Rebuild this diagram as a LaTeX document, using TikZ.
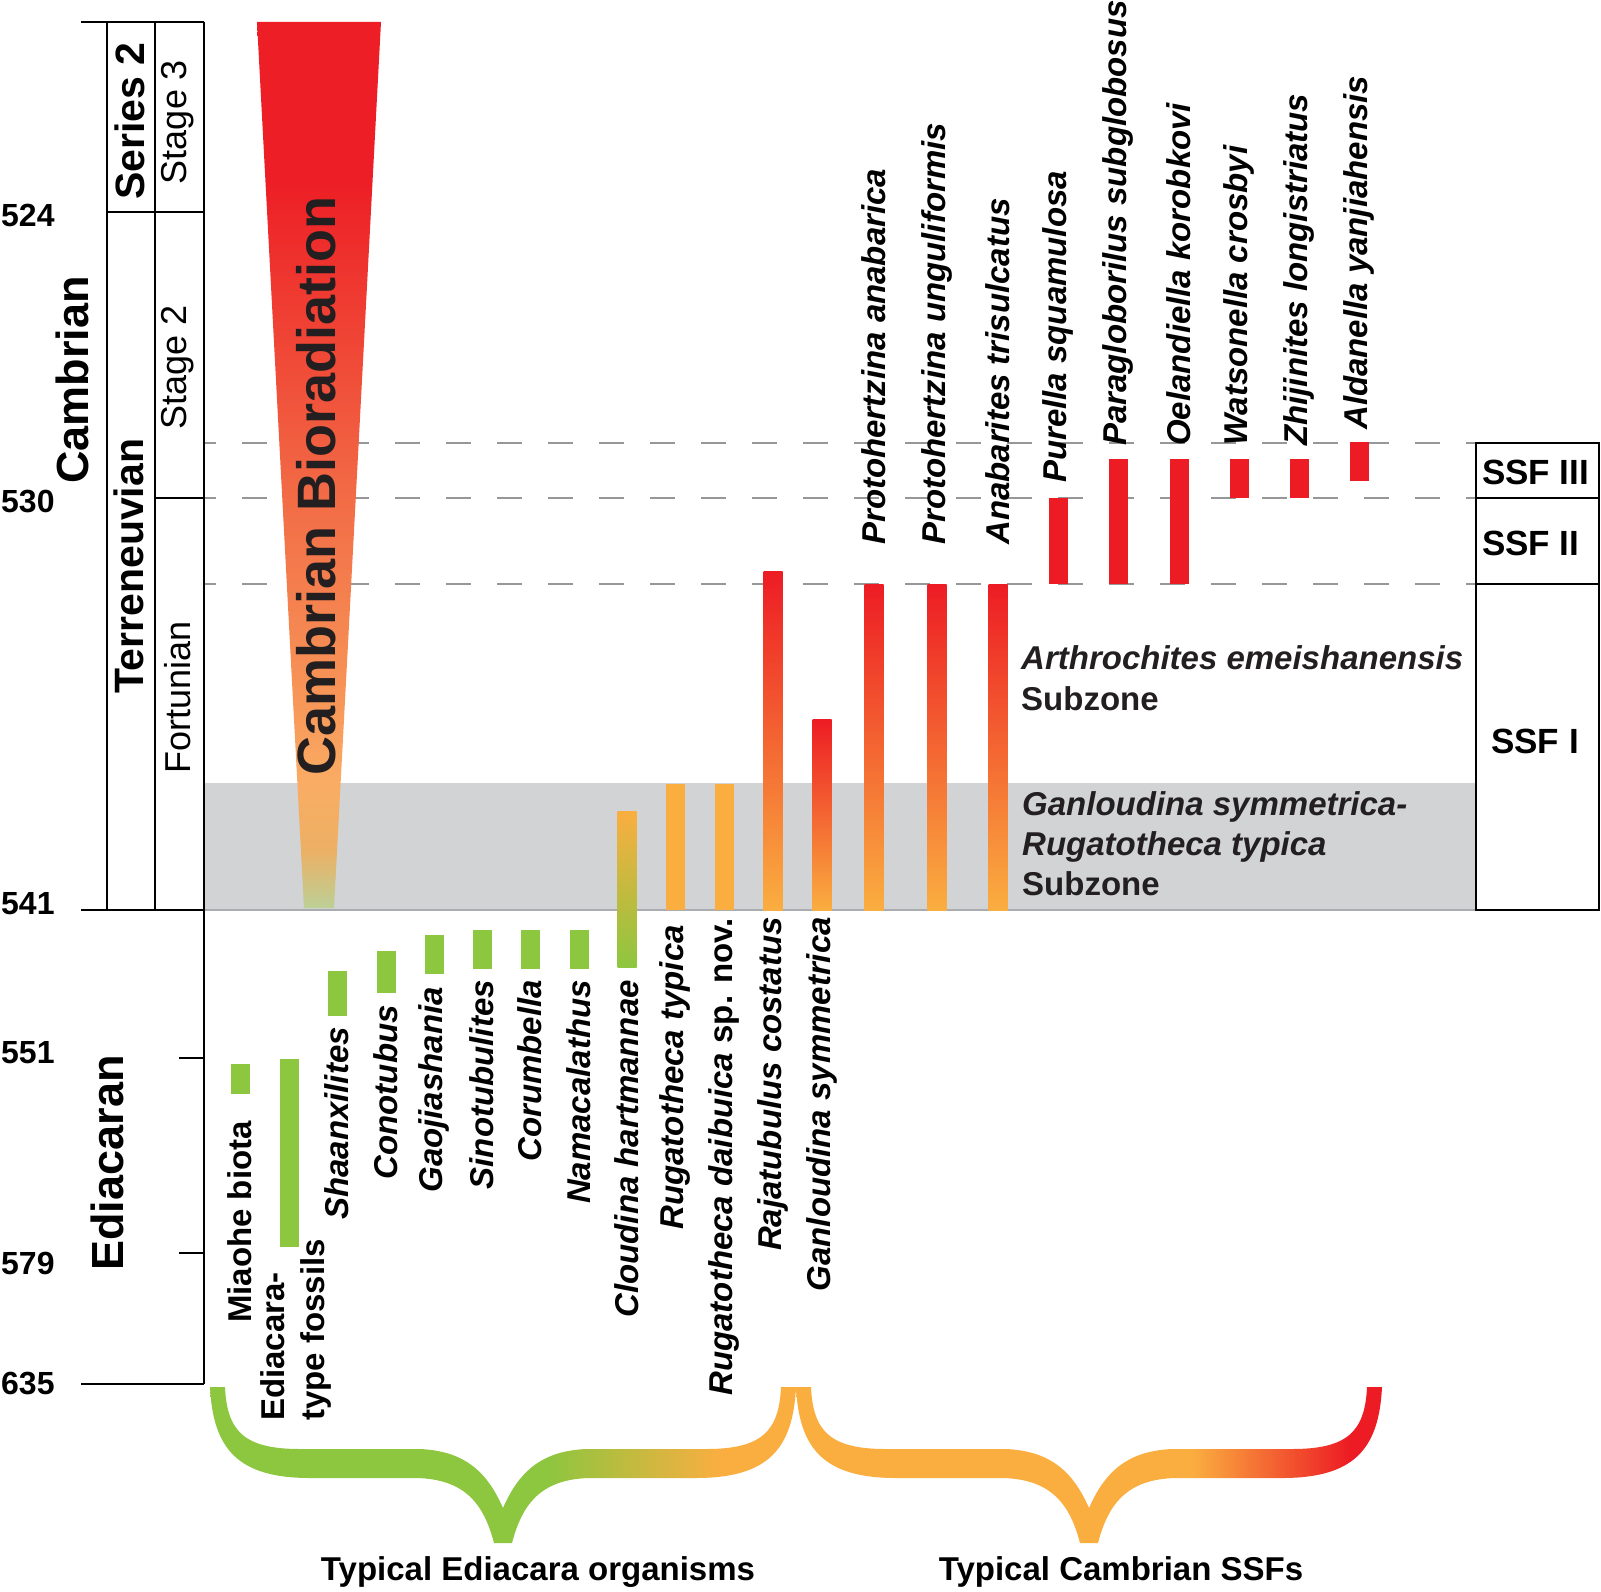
\documentclass[tikz,border=0pt]{standalone}
\usepackage{fontspec}
\setmainfont{Liberation Sans}
\usepackage{tikz}
\usetikzlibrary{calc}

\definecolor{ssfred}{RGB}{237,28,36}
\definecolor{ssforange}{RGB}{250,174,64}
\definecolor{edigreen}{RGB}{141,198,63}
\definecolor{zonegray}{RGB}{209,211,212}
\definecolor{zoneedge}{RGB}{170,172,175}
\definecolor{dashgray}{RGB}{150,151,153}
\definecolor{darktext}{RGB}{35,31,32}
\definecolor{tri1}{RGB}{188,208,150}
\definecolor{tri2}{RGB}{236,176,100}
\definecolor{tri3}{RGB}{250,172,100}
\definecolor{tri4}{RGB}{247,150,88}
\definecolor{tri5}{RGB}{242,108,70}
\definecolor{tri6}{RGB}{237,30,37}

\pgfdeclareverticalshading{bioradiation}{100bp}{color(0bp)=(tri1); color(25bp)=(tri1);
  color(28.27bp)=(tri2); color(32.05bp)=(tri3); color(36.74bp)=(tri4);
  color(48.02bp)=(tri5); color(66.08bp)=(tri6); color(75bp)=(tri6); color(100bp)=(tri6)}
\pgfdeclarehorizontalshading{edibrace}{100bp}{color(0bp)=(edigreen); color(53.75bp)=(edigreen);
  color(68.5bp)=(ssforange); color(100bp)=(ssforange)}
\pgfdeclarehorizontalshading{ssfbrace}{100bp}{color(0bp)=(ssforange); color(58.8bp)=(ssforange);
  color(72.2bp)=(ssfred); color(100bp)=(ssfred)}

\begin{document}
\begin{tikzpicture}[x=1pt, y=-1pt,
    chartline/.style={line width=1.4pt, black},
    zoneline/.style={dashgray, line width=1.8pt, dash pattern=on 25pt off 26pt, dash phase=13pt},
    taxon/.style={rotate=90, inner sep=0pt, font=\fontsize{33}{40}\selectfont\bfseries\itshape},
    taxlow/.style={taxon, anchor=east},
    taxup/.style={taxon, anchor=west},
    agelab/.style={anchor=west, inner sep=0pt, font=\fontsize{32}{38}\selectfont\bfseries},
    unitlab/.style={rotate=90, inner sep=0pt},
    zonelab/.style={inner sep=0pt, font=\fontsize{35}{40}\selectfont\bfseries}]
\useasboundingbox (0,0) rectangle (1601,1592);

% subzone band and SSF zone boundaries
\fill[zonegray] (204,783) rectangle (1476,910);
\draw[line width=1.2pt, zoneedge] (204,910) -- (1476,910);
\foreach \yy in {443,498,584}
    \draw[zoneline] (204,\yy) -- (1476,\yy);

% Cambrian Bioradiation wedge
\shade[shading=bioradiation] (257,22) -- (381,22) -- (334,908) -- (304,908) -- cycle;

% stratigraphic ranges
\foreach \x/\ya/\yb in {240/1064/1094, 289/1059/1247, 337/971/1016, 386/951/993,
                        434/935/974, 482/930/969, 530/930/969, 579/930/969}
    \fill[edigreen] (\x-9.5,\ya) rectangle (\x+9.5,\yb);
\shade[top color=ssforange, bottom color=edigreen] (617.5,811) rectangle (636.5,967);
\foreach \x in {675,724}
    \fill[ssforange] (\x-9.5,784) rectangle (\x+9.5,910);
\foreach \x/\ya in {773/571, 822/719, 874/584, 937/584, 998/584}
    \shade[top color=ssfred, bottom color=ssforange] (\x-9.5,\ya) rectangle (\x+9.5,910);
\foreach \x/\ya/\yb in {1058/498/584, 1118/459/584, 1179/459/584,
                        1239/459/498, 1299/459/498, 1359/442/481}
    \fill[ssfred] (\x-9.5,\ya) rectangle (\x+9.5,\yb);

% time scale
\draw[chartline] (81,22) -- (204,22);
\draw[chartline] (107,22) -- (107,910);
\draw[chartline] (155,22) -- (155,910);
\draw[chartline] (204,22) -- (204,1384);
\draw[chartline] (107,212) -- (204,212);
\draw[chartline] (155,498) -- (204,498);
\draw[chartline] (81,910) -- (204,910);
\draw[chartline] (179,1058) -- (204,1058);
\draw[chartline] (179,1253) -- (204,1253);
\draw[chartline] (81,1384) -- (204,1384);
\draw[chartline] (1476,443) rectangle (1599,910);
\draw[chartline] (1476,498) -- (1599,498);
\draw[chartline] (1476,584) -- (1599,584);

\foreach \a/\yy in {524/215, 530/502, 541/904, 551/1053, 579/1263, 635/1383}
    \node[agelab] (age\a) at (1,\yy) {\a};

\node[unitlab, font=\fontsize{45}{50}\selectfont\bfseries] (cambrian) at (72,380) {Cambrian};
\node[unitlab, font=\fontsize{45}{50}\selectfont\bfseries] (ediacaran) at (107,1163) {Ediacaran};
\node[unitlab, font=\fontsize{41}{46}\selectfont\bfseries] (series) at (130,121) {Series 2};
\node[unitlab, font=\fontsize{41}{46}\selectfont\bfseries] (terreneuvian) at (129,566) {Terreneuvian};
\node[unitlab, font=\fontsize{36}{40}\selectfont] (stage3) at (178,122) {Stage 3};
\node[unitlab, font=\fontsize{36}{40}\selectfont] (stage2) at (178,367) {Stage 2};
\node[unitlab, font=\fontsize{36}{40}\selectfont] (fortunian) at (178,697) {Fortunian};
\node[unitlab, darktext, font=\fontsize{54}{60}\selectfont\bfseries] (bioradiation) at (316,486) {Cambrian Bioradiation};

% SSF zones
\node[zonelab, anchor=west] (ssf3) at (1482,472) {SSF III};
\node[zonelab, anchor=west] (ssf2) at (1482,543) {SSF II};
\node[zonelab] (ssf1) at (1535,741) {SSF I};
\node[darktext, anchor=north west, inner sep=0pt, align=left, font=\fontsize{33}{41}\selectfont\bfseries]
    (arthro) at (1021,645) {\textit{Arthrochites emeishanensis}\\Subzone};
\node[darktext, anchor=north west, inner sep=0pt, align=left, font=\fontsize{33}{40}\selectfont\bfseries]
    (ganlou) at (1022,791) {\textit{Ganloudina symmetrica-}\\\textit{Rugatotheca typica}\\Subzone};

% taxa
\node[taxlow, font=\fontsize{33}{40}\selectfont\bfseries] (miaohe) at (240,1121) {Miaohe biota};
\node[taxon, anchor=west, align=left, font=\fontsize{33}{40}\selectfont\bfseries]
    (ediacara) at (296,1421) {Ediacara-\\type fossils};
\foreach \x/\yy/\t [count=\i] in {337/1027/Shaanxilites, 386/1005/Conotubus, 434/987/Gaojiashania,
        482/980/Sinotubulites, 530/980/Corumbella, 579/980/Namacalathus,
        627/980/Cloudina hartmannae, 675/925/Rugatotheca typica,
        724/918/{Rugatotheca daibuica \upshape sp. nov.},
        773/917/Rajatubulus costatus, 822/917/Ganloudina symmetrica}
    \node[taxlow] (low\i) at (\x,\yy) {\t};
\foreach \x/\yy/\t [count=\i] in {874/545/Protohertzina anabarica, 937/545/Protohertzina unguliformis,
        998/545/Anabarites trisulcatus, 1058/483/Purella squamulosa,
        1118/446/Paragloborilus subglobosus, 1179/446/Oelandiella korobkovi,
        1239/446/Watsonella crosbyi, 1299/446/Zhijinites longistriatus,
        1359/430/Aldanella yanjiahensis}
    \node[taxup] (up\i) at (\x,\yy) {\t};

% braces
\foreach \bx/\sh in {210/edibrace, 796/ssfbrace}
    \shade[shading=\sh, shift={(\bx,1387)}] (0,0) -- (15,0)
        .. controls (17,45) and (35,62) .. (90,62) -- (210,62)
        .. controls (252,64) and (276,82) .. (293,121)
        .. controls (310,82) and (334,64) .. (376,62) -- (496,62)
        .. controls (551,62) and (569,45) .. (571,0) -- (586,0)
        .. controls (583,62) and (558,91) .. (486,91) -- (380,91)
        .. controls (330,92) and (312,118) .. (302,156) -- (284,156)
        .. controls (274,118) and (256,92) .. (206,91) -- (100,91)
        .. controls (28,91) and (3,62) .. (0,0) -- cycle;

\node[anchor=base, inner sep=0pt, font=\fontsize{33}{40}\selectfont\bfseries] (ediorg) at (538,1580) {Typical Ediacara organisms};
\node[anchor=base, inner sep=0pt, font=\fontsize{33}{40}\selectfont\bfseries] (ssforg) at (1121,1580) {Typical Cambrian SSFs};
\end{tikzpicture}
\end{document}
